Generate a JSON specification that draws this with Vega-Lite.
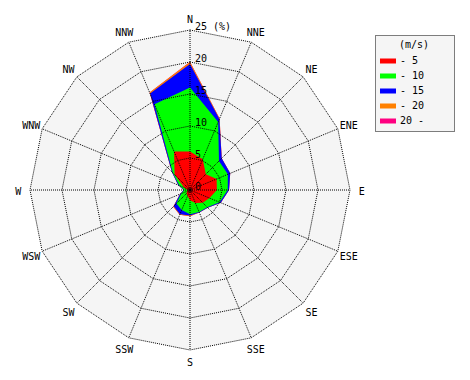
{
  "$schema": "https://vega.github.io/schema/vega-lite/v6.json",
  "width": 320,
  "height": 320,
  "autosize": "none",
  "padding": {"left": 30, "top": 30, "right": 120, "bottom": 30},
  "background": "white",
  "config": {
    "view": {"stroke": null},
    "font": "DejaVu Sans Mono",
    "legend": {
      "orient": "none",
      "legendX": 345,
      "legendY": 5,
      "strokeColor": "black",
      "strokeDash": [1, 1],
      "fillColor": "#f5f5f5",
      "padding": 5,
      "titleFont": "DejaVu Sans Mono",
      "titleFontSize": 10,
      "titleFontWeight": "normal",
      "titleColor": "black",
      "titleAnchor": "middle",
      "titleAlign": "center",
      "titlePadding": 3,
      "labelFont": "DejaVu Sans Mono",
      "labelFontSize": 10,
      "labelColor": "black",
      "labelOffset": 4,
      "symbolType": "M-1,-0.3125H1V0.3125H-1Z",
      "symbolSize": 256,
      "symbolStrokeWidth": 0,
      "rowPadding": 2
    }
  },
  "datasets": {
    "dirs": [
      {"k": 0, "dir": "N"}, {"k": 1, "dir": "NNE"}, {"k": 2, "dir": "NE"}, {"k": 3, "dir": "ENE"},
      {"k": 4, "dir": "E"}, {"k": 5, "dir": "ESE"}, {"k": 6, "dir": "SE"}, {"k": 7, "dir": "SSE"},
      {"k": 8, "dir": "S"}, {"k": 9, "dir": "SSW"}, {"k": 10, "dir": "SW"}, {"k": 11, "dir": "WSW"},
      {"k": 12, "dir": "W"}, {"k": 13, "dir": "WNW"}, {"k": 14, "dir": "NW"}, {"k": 15, "dir": "NNW"}
    ],
    "rings": [
      {"ring": 5, "k": [0,1,2,3,4,5,6,7,8,9,10,11,12,13,14,15]},
      {"ring": 10, "k": [0,1,2,3,4,5,6,7,8,9,10,11,12,13,14,15]},
      {"ring": 15, "k": [0,1,2,3,4,5,6,7,8,9,10,11,12,13,14,15]},
      {"ring": 20, "k": [0,1,2,3,4,5,6,7,8,9,10,11,12,13,14,15]},
      {"ring": 25, "k": [0,1,2,3,4,5,6,7,8,9,10,11,12,13,14,15]}
    ],
    "rose": [
      {"dir": "N",   "k": 0,  "c1": 6.0, "c2": 16.0, "c3": 19.7, "c4": 20.0, "c5": 20.05},
      {"dir": "NNE", "k": 1,  "c1": 5.2, "c2": 11.5, "c3": 12.0, "c4": 12.1, "c5": 12.1},
      {"dir": "NE",  "k": 2,  "c1": 3.5, "c2": 6.4,  "c3": 7.0,  "c4": 7.0,  "c5": 7.0},
      {"dir": "ENE", "k": 3,  "c1": 4.5, "c2": 6.4,  "c3": 6.8,  "c4": 6.8,  "c5": 6.8},
      {"dir": "E",   "k": 4,  "c1": 4.2, "c2": 5.9,  "c3": 6.1,  "c4": 6.1,  "c5": 6.1},
      {"dir": "ESE", "k": 5,  "c1": 3.3, "c2": 5.0,  "c3": 5.2,  "c4": 5.2,  "c5": 5.2},
      {"dir": "SE",  "k": 6,  "c1": 2.8, "c2": 3.8,  "c3": 3.9,  "c4": 3.9,  "c5": 3.9},
      {"dir": "SSE", "k": 7,  "c1": 2.2, "c2": 3.7,  "c3": 3.8,  "c4": 3.8,  "c5": 3.8},
      {"dir": "S",   "k": 8,  "c1": 1.6, "c2": 3.8,  "c3": 4.0,  "c4": 4.1,  "c5": 4.1},
      {"dir": "SSW", "k": 9,  "c1": 1.0, "c2": 3.4,  "c3": 4.1,  "c4": 4.2,  "c5": 4.2},
      {"dir": "SW",  "k": 10, "c1": 0.8, "c2": 3.0,  "c3": 3.6,  "c4": 3.7,  "c5": 3.7},
      {"dir": "WSW", "k": 11, "c1": 0.5, "c2": 1.5,  "c3": 1.7,  "c4": 1.7,  "c5": 1.7},
      {"dir": "W",   "k": 12, "c1": 0.4, "c2": 0.9,  "c3": 1.0,  "c4": 1.0,  "c5": 1.0},
      {"dir": "WNW", "k": 13, "c1": 1.0, "c2": 1.8,  "c3": 2.0,  "c4": 2.0,  "c5": 2.0},
      {"dir": "NW",  "k": 14, "c1": 3.4, "c2": 3.8,  "c3": 4.0,  "c4": 4.0,  "c5": 4.0},
      {"dir": "NNW", "k": 15, "c1": 6.5, "c2": 14.5, "c3": 16.3, "c4": 16.5, "c5": 16.5}
    ],
    "classes": [
      {"key": "c1", "cls": "- 5"}, {"key": "c2", "cls": "- 10"}, {"key": "c3", "cls": "- 15"},
      {"key": "c4", "cls": "- 20"}, {"key": "c5", "cls": "20 -"}
    ],
    "ringlabels": [
      {"r": 0, "label": "0"}, {"r": 5, "label": "5"}, {"r": 10, "label": "10"},
      {"r": 15, "label": "15"}, {"r": 20, "label": "20"}, {"r": 25, "label": "25 (%)"}
    ]
  },
  "layer": [
    {
      "data": {"name": "dirs"},
      "transform": [
        {"calculate": "datum.k * PI / 8", "as": "a"},
        {"calculate": "25 * sin(datum.a)", "as": "x"},
        {"calculate": "25 * cos(datum.a)", "as": "y"}
      ],
      "mark": {"type": "line", "interpolate": "linear-closed", "fill": "#f5f5f5", "strokeWidth": 0},
      "encoding": {
        "x": {"field": "x", "type": "quantitative", "scale": {"domain": [-25, 25], "nice": false, "zero": false}, "axis": null},
        "y": {"field": "y", "type": "quantitative", "scale": {"domain": [-25, 25], "nice": false, "zero": false}, "axis": null},
        "order": {"field": "k", "type": "quantitative"}
      }
    },
    {
      "data": {"name": "rose"},
      "transform": [
        {"fold": ["c1", "c2", "c3", "c4", "c5"], "as": ["key", "v"]},
        {"lookup": "key", "from": {"data": {"name": "classes"}, "key": "key", "fields": ["cls"]}},
        {"calculate": "datum.k * PI / 8", "as": "a"},
        {"calculate": "datum.v * sin(datum.a)", "as": "x"},
        {"calculate": "datum.v * cos(datum.a)", "as": "y"}
      ],
      "layer": [
        {"transform": [{"filter": "datum.key == 'c5'"}], "mark": {"type": "line", "interpolate": "linear-closed", "strokeWidth": 0}},
        {"transform": [{"filter": "datum.key == 'c4'"}], "mark": {"type": "line", "interpolate": "linear-closed", "strokeWidth": 0}},
        {"transform": [{"filter": "datum.key == 'c3'"}], "mark": {"type": "line", "interpolate": "linear-closed", "strokeWidth": 0}},
        {"transform": [{"filter": "datum.key == 'c2'"}], "mark": {"type": "line", "interpolate": "linear-closed", "strokeWidth": 0}},
        {"transform": [{"filter": "datum.key == 'c1'"}], "mark": {"type": "line", "interpolate": "linear-closed", "strokeWidth": 0}}
      ],
      "encoding": {
        "x": {"field": "x", "type": "quantitative", "axis": null},
        "y": {"field": "y", "type": "quantitative", "axis": null},
        "order": {"field": "k", "type": "quantitative"},
        "fill": {"field": "cls", "type": "nominal", "title": "(m/s)",
          "scale": {"domain": ["- 5", "- 10", "- 15", "- 20", "20 -"], "range": ["#ff0000", "#00ff00", "#0000ff", "#ff8000", "#ff0080"]},
          "legend": {"labelExpr": "datum.label + '\u00a0\u00a0\u00a0\u00a0\u200b'"}}
      }
    },
    {
      "data": {"name": "rings"},
      "transform": [
        {"flatten": ["k"]},
        {"calculate": "datum.k * PI / 8", "as": "a"},
        {"calculate": "datum.ring * sin(datum.a)", "as": "x"},
        {"calculate": "datum.ring * cos(datum.a)", "as": "y"}
      ],
      "mark": {"type": "line", "interpolate": "linear-closed", "color": "black", "strokeWidth": 1, "strokeDash": [1, 1]},
      "encoding": {
        "x": {"field": "x", "type": "quantitative", "axis": null},
        "y": {"field": "y", "type": "quantitative", "axis": null},
        "order": {"field": "k", "type": "quantitative"},
        "detail": {"field": "ring", "type": "nominal"}
      }
    },
    {
      "data": {"name": "dirs"},
      "transform": [
        {"calculate": "datum.k * PI / 8", "as": "a"},
        {"calculate": "0", "as": "x0"},
        {"calculate": "25 * sin(datum.a)", "as": "x"},
        {"calculate": "25 * cos(datum.a)", "as": "y"}
      ],
      "mark": {"type": "rule", "color": "black", "strokeWidth": 1, "strokeDash": [1, 1]},
      "encoding": {
        "x": {"field": "x0", "type": "quantitative", "axis": null},
        "y": {"field": "x0", "type": "quantitative", "axis": null},
        "x2": {"field": "x"},
        "y2": {"field": "y"}
      }
    },
    {
      "data": {"name": "dirs"},
      "transform": [
        {"calculate": "datum.k * PI / 8", "as": "a"},
        {"calculate": "26.85 * sin(datum.a)", "as": "x"},
        {"calculate": "26.85 * cos(datum.a)", "as": "y"}
      ],
      "mark": {"type": "text", "font": "DejaVu Sans Mono", "fontSize": 10, "color": "black", "align": "center", "baseline": "middle", "dy": 1.5},
      "encoding": {
        "x": {"field": "x", "type": "quantitative", "axis": null},
        "y": {"field": "y", "type": "quantitative", "axis": null},
        "text": {"field": "dir", "type": "nominal"}
      }
    },
    {
      "data": {"name": "ringlabels"},
      "transform": [{"calculate": "0", "as": "x0"}],
      "mark": {"type": "text", "font": "DejaVu Sans Mono", "fontSize": 10, "color": "black", "align": "left", "baseline": "alphabetic", "dx": 5, "dy": 0},
      "encoding": {
        "x": {"field": "x0", "type": "quantitative", "axis": null},
        "y": {"field": "r", "type": "quantitative", "axis": null},
        "text": {"field": "label", "type": "nominal"}
      }
    },
    {
      "data": {"name": "ringlabels"},
      "transform": [{"filter": "datum.r == 0"}, {"calculate": "0", "as": "x0"}],
      "mark": {"type": "point", "filled": true, "color": "black", "size": 12, "opacity": 1},
      "encoding": {
        "x": {"field": "x0", "type": "quantitative", "axis": null},
        "y": {"field": "r", "type": "quantitative", "axis": null}
      }
    }
  ]
}
